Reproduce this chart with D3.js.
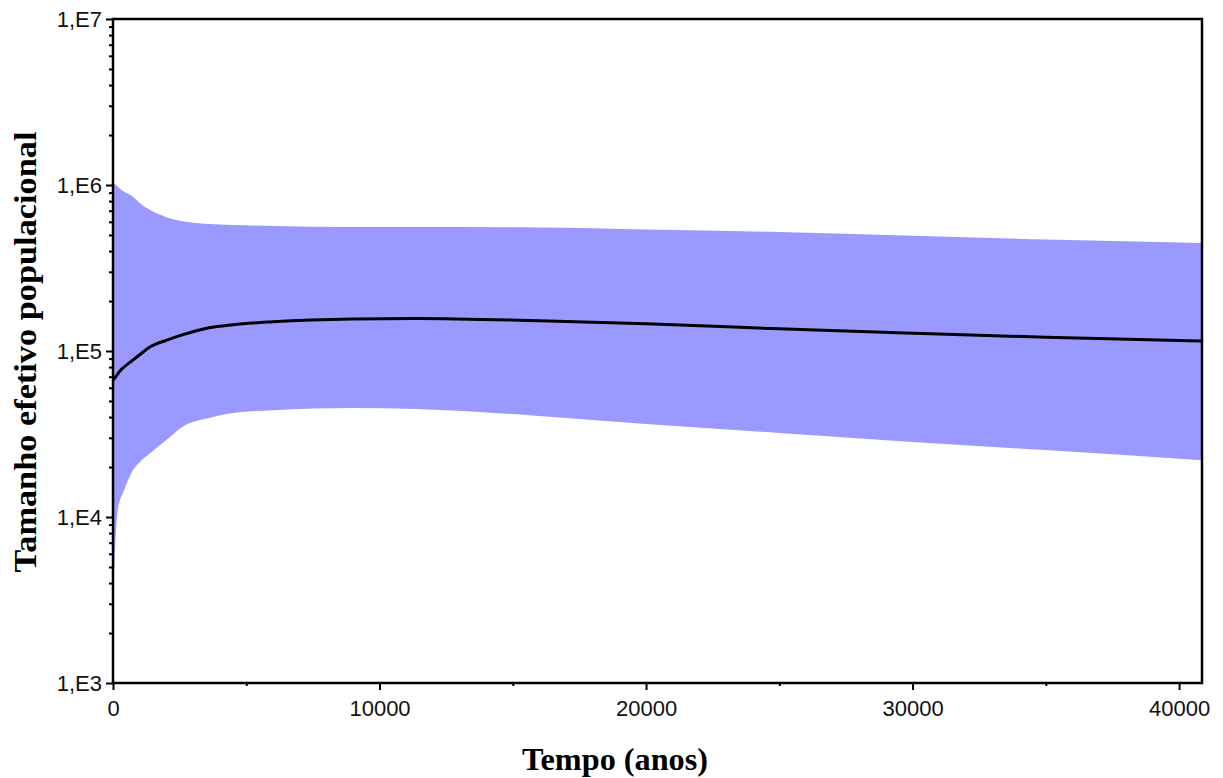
<!DOCTYPE html>
<html>
<head>
<meta charset="utf-8">
<script src="https://d3js.org/d3.v7.min.js"></script>
<style>
  body { margin: 0; background: #fff; }
  .tick text { font-family: Arial, "Liberation Sans", sans-serif; font-size: 22px; fill: #111; }
</style>
</head>
<body>
<script>
// Time points (years)
const times = [0, 75, 150, 260, 375, 750, 1000, 1400, 2000, 2600, 3600, 4500, 6000, 9000, 11400, 16000, 20000, 25000, 30000, 35000, 40860];
// Upper 95% HPD
const upper = [1.03e6, 1.01e6, 9.9e5, 9.5e5, 9.2e5, 8.5e5, 7.8e5, 7.06e5, 6.4e5, 6.05e5, 5.82e5, 5.74e5, 5.66e5, 5.58e5, 5.58e5, 5.55e5, 5.4e5, 5.21e5, 4.95e5, 4.7e5, 4.48e5];
// Median
const median = [6.69e4, 6.9e4, 7.16e4, 7.58e4, 7.9e4, 8.83e4, 9.5e4, 1.06e5, 1.16e5, 1.25e5, 1.38e5, 1.44e5, 1.5e5, 1.56e5, 1.57e5, 1.52e5, 1.46e5, 1.36e5, 1.28e5, 1.21e5, 1.15e5];
// Lower 95% HPD
const lower = [3.16e3, 6.3e3, 1.0e4, 1.26e4, 1.4e4, 1.92e4, 2.14e4, 2.43e4, 2.91e4, 3.49e4, 3.95e4, 4.23e4, 4.4e4, 4.54e4, 4.48e4, 4.06e4, 3.63e4, 3.21e4, 2.83e4, 2.53e4, 2.2e4];

const xTicks = [0, 10000, 20000, 30000, 40000];
const xMinor = [5000, 15000, 25000, 35000];
const yTicks = [1e3, 1e4, 1e5, 1e6, 1e7];

const W = 1223, H = 778;
const plot = { left: 113, right: 1202, top: 19, bottom: 683 };

const svg = d3.select("body").append("svg")
  .attr("width", W)
  .attr("height", H);

svg.append("rect").attr("width", W).attr("height", H).attr("fill", "#fff");

const x = d3.scaleLinear()
  .domain([0, 40860])
  .range([plot.left, plot.right]);

const y = d3.scaleLog()
  .domain([1e3, 1e7])
  .range([plot.bottom, plot.top]);

const rows = times.map((t, i) => ({ t, lo: lower[i], md: median[i], hi: upper[i] }));

// band
const area = d3.area()
  .x(d => x(d.t))
  .y0(d => y(d.lo))
  .y1(d => y(d.hi))
  .curve(d3.curveMonotoneX);

svg.append("path")
  .datum(rows)
  .attr("fill", "#9999ff")
  .attr("d", area);

// median line
const line = d3.line()
  .x(d => x(d.t))
  .y(d => y(d.md))
  .curve(d3.curveMonotoneX);

svg.append("path")
  .datum(rows)
  .attr("fill", "none")
  .attr("stroke", "#000")
  .attr("stroke-width", 3)
  .attr("d", line);

// minor ticks
const yMinor = [];
[1e3, 1e4, 1e5, 1e6].forEach(p => { for (let k = 2; k <= 9; k++) yMinor.push(k * p); });

svg.append("g")
  .attr("transform", `translate(${plot.left},0)`)
  .call(d3.axisLeft(y).tickValues(yMinor).tickSize(4).tickFormat(""))
  .call(g => g.select(".domain").remove())
  .call(g => g.selectAll("line").attr("stroke-width", 2));

svg.append("g")
  .attr("transform", `translate(0,${plot.bottom})`)
  .call(d3.axisBottom(x).tickValues(xMinor).tickSize(3).tickFormat(""))
  .call(g => g.select(".domain").remove())
  .call(g => g.selectAll("line").attr("stroke-width", 2));

// major axes
svg.append("g")
  .attr("transform", `translate(${plot.left},0)`)
  .call(d3.axisLeft(y).tickValues(yTicks).tickSize(7).tickPadding(4)
    .tickFormat(d => "1,E" + Math.round(Math.log10(d))))
  .call(g => g.select(".domain").remove())
  .call(g => g.selectAll("line").attr("stroke-width", 2));

svg.append("g")
  .attr("transform", `translate(0,${plot.bottom})`)
  .call(d3.axisBottom(x).tickValues(xTicks).tickSize(7).tickPadding(10).tickFormat(d3.format("d")))
  .call(g => g.select(".domain").remove())
  .call(g => g.selectAll("line").attr("stroke-width", 2));

// frame
svg.append("rect")
  .attr("x", plot.left)
  .attr("y", plot.top)
  .attr("width", plot.right - plot.left)
  .attr("height", plot.bottom - plot.top)
  .attr("fill", "none")
  .attr("stroke", "#000")
  .attr("stroke-width", 2.5);

// axis titles
svg.append("text")
  .attr("x", 615)
  .attr("y", 770)
  .attr("text-anchor", "middle")
  .attr("font-family", "'Liberation Serif', 'Times New Roman', serif")
  .attr("font-weight", "bold")
  .attr("font-size", 32)
  .attr("textLength", 186)
  .attr("lengthAdjust", "spacingAndGlyphs")
  .text("Tempo (anos)");

svg.append("text")
  .attr("transform", "translate(36,352) rotate(-90)")
  .attr("text-anchor", "middle")
  .attr("font-family", "'Liberation Serif', 'Times New Roman', serif")
  .attr("font-weight", "bold")
  .attr("font-size", 31)
  .attr("textLength", 441)
  .attr("lengthAdjust", "spacingAndGlyphs")
  .text("Tamanho efetivo populacional");
</script>
</body>
</html>
